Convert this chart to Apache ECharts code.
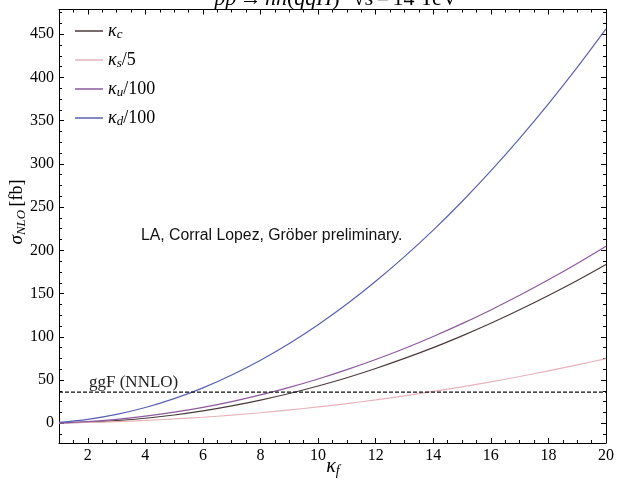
<!DOCTYPE html>
<html><head><meta charset="utf-8">
<script src="https://cdn.jsdelivr.net/npm/echarts@6/dist/echarts.min.js"></script>
<style>html,body{margin:0;padding:0;background:#fff}#c{width:617px;height:481px}</style>
</head><body><div id="c"></div>
<script>
// ---- data ----
const kappa     = [1,2,3,4,5,6,7,8,9,10,11,12,13,14,15,16,17,18,19,20];
const sigmaC    = [0.4,1.3,3.1,5.8,9.6,14.3,20.1,26.8,34.4,43.1,52.7,63.4,75.0,87.5,101.1,115.6,131.2,147.7,165.1,183.6];
const sigmaS5   = [0.5,1.0,2.0,3.3,5.0,7.0,9.4,12.2,15.4,18.9,22.8,27.1,31.7,36.8,42.2,47.9,54.1,60.6,67.5,74.7];
const sigmaU100 = [0.5,2.0,4.6,8.2,12.8,18.4,25.1,32.8,41.5,51.2,62.0,73.7,86.5,100.4,115.2,131.1,148.0,165.9,184.8,204.8];
const sigmaD100 = [1.1,4.6,10.3,18.2,28.5,41.0,55.9,73.0,92.3,114.0,137.9,164.2,192.7,223.4,256.5,291.8,329.5,369.4,411.5,456.0];
const ggF = 36;
const xTicks = [2,4,6,8,10,12,14,16,18,20];
const yTicks = [0,50,100,150,200,250,300,350,400,450];
const seriesNames = ['kc','ks5','ku100','kd100'];

// ---- derived ----
const xMinor = [];
for (let v = 1; v <= 20.001; v += 0.5) if (Math.abs(v/2 - Math.round(v/2)) > 1e-6) xMinor.push(v);
const yMinor = [];
for (let v = -12.5; v <= 478; v += 12.5) if (Math.abs(v/50 - Math.round(v/50)) > 1e-6) yMinor.push(v);
const pairs = ys => kappa.map((k,i)=>[k, ys[i]]);

const serif = 'Liberation Serif';
const mathRich = {
  i:   {fontFamily: serif, fontStyle: 'italic', fontSize: 18, lineHeight: 20, color: '#000'},
  sub: {fontFamily: serif, fontStyle: 'italic', fontSize: 13, lineHeight: 12, verticalAlign: 'bottom', color: '#000'},
  n:   {fontFamily: serif, fontSize: 18, lineHeight: 20, color: '#000'}
};
const legendText = {
  kc: '{i|κ}{sub|c}',
  ks5: '{i|κ}{sub|s}{n|/5}',
  ku100: '{i|κ}{sub|u}{n|/100}',
  kd100: '{i|κ}{sub|d}{n|/100}'
};
const colors = {kc: '#4a3b3b', ks5: '#e6b3bb', ku100: '#8d5a9e', kd100: '#5b60b2'};
const XMIN = 1, XMAX = 20, YMIN = -22.8, YMAX = 478.5;

function xAx(pos, major) {
  return {
    type: 'value', min: XMIN, max: XMAX, position: pos,
    axisLine: {show: major, onZero: false, lineStyle: {color: '#000', width: 1}},
    axisTick: {show: true, inside: true, length: major ? 5 : 3, customValues: major ? xTicks : xMinor, lineStyle: {color: '#000', width: 1}},
    axisLabel: (major && pos === 'bottom') ? {show: true, customValues: xTicks, margin: 5, fontFamily: serif, fontSize: 16, color: '#000'} : {show: false},
    splitLine: {show: false}
  };
}
function yAx(pos, major) {
  return {
    type: 'value', min: YMIN, max: YMAX, position: pos,
    axisLine: {show: major, onZero: false, lineStyle: {color: '#000', width: 1}},
    axisTick: {show: true, inside: true, length: major ? 5 : 3, customValues: major ? yTicks : yMinor, lineStyle: {color: '#000', width: 1}},
    axisLabel: (major && pos === 'left') ? {show: true, customValues: yTicks, margin: 5, fontFamily: serif, fontSize: 16, color: '#000'} : {show: false},
    splitLine: {show: false}
  };
}

const series = [
  {name: 'kc', data: pairs(sigmaC)},
  {name: 'ks5', data: pairs(sigmaS5)},
  {name: 'ku100', data: pairs(sigmaU100)},
  {name: 'kd100', data: pairs(sigmaD100)}
].map(s => ({
  name: s.name, type: 'line', data: s.data, smooth: 0.3, showSymbol: false, symbol: 'none',
  xAxisIndex: 0, yAxisIndex: 0, color: colors[s.name],
  lineStyle: {color: colors[s.name], width: 1.2}, silent: true, animation: false
}));
series.push({
  name: 'ggF', type: 'line', data: [[XMIN, ggF], [XMAX, ggF]], showSymbol: false, symbol: 'none',
  xAxisIndex: 0, yAxisIndex: 0, color: '#000',
  lineStyle: {color: '#111', width: 1.2, type: [4, 2]}, silent: true, animation: false
});

const chart = echarts.init(document.getElementById('c'), null, {renderer: 'canvas'});
chart.setOption({
  animation: false,
  backgroundColor: '#fff',
  grid: {left: 59, right: 10, top: 9.5, bottom: 38, containLabel: false},
  xAxis: [xAx('bottom', true), xAx('bottom', false), xAx('top', true), xAx('top', false)],
  yAxis: [yAx('left', true), yAx('left', false), yAx('right', true), yAx('right', false)],
  legend: {
    data: seriesNames, orient: 'vertical', left: 75, top: 21, padding: 0,
    icon: 'rect', itemWidth: 28, itemHeight: 1.5, itemGap: 9,
    formatter: n => legendText[n],
    textStyle: {rich: mathRich, fontFamily: serif, fontSize: 18, lineHeight: 20},
    selectedMode: false
  },
  series: series,
  graphic: [
    {type: 'text', x: 336, y: 9, z: 100, silent: true,
     style: {text: '{i|pp} {n|→} {i|hh}{n|(}{i|qqH}{n|)}    {n|√}{i|s} {n|=} {n|14 TeV}', align: 'center', verticalAlign: 'bottom',
       rich: {i: {fontFamily: serif, fontStyle: 'italic', fontSize: 22, lineHeight: 20, color: '#000'},
              n: {fontFamily: serif, fontSize: 22, lineHeight: 20, color: '#000'}}}},
    {type: 'text', x: 17, y: 212, rotation: Math.PI / 2, silent: true,
     style: {text: '{i|σ}{sub|NLO} {n|[fb]}', align: 'center', verticalAlign: 'middle',
       rich: {i: {fontFamily: serif, fontStyle: 'italic', fontSize: 19, lineHeight: 22, color: '#000'},
              sub: {fontFamily: serif, fontStyle: 'italic', fontSize: 13, lineHeight: 13, verticalAlign: 'bottom', color: '#000'},
              n: {fontFamily: serif, fontSize: 18, lineHeight: 22, color: '#000'}}}},
    {type: 'text', x: 333, y: 467, silent: true,
     style: {text: '{i|κ}{sub|f}', align: 'center', verticalAlign: 'middle',
       rich: {i: {fontFamily: serif, fontStyle: 'italic', fontSize: 20, lineHeight: 22, color: '#000'},
              sub: {fontFamily: serif, fontStyle: 'italic', fontSize: 14, lineHeight: 14, verticalAlign: 'bottom', color: '#000'}}}},
    {type: 'text', x: 89, y: 391, silent: true,
     style: {text: 'ggF (NNLO)', fontFamily: serif, fontSize: 17, fill: '#222', align: 'left', verticalAlign: 'bottom'}},
    {type: 'text', x: 141, y: 236, silent: true,
     style: {text: 'LA, Corral Lopez, Gröber preliminary.', fontFamily: 'Liberation Sans', fontSize: 15.8, fill: '#111', align: 'left', verticalAlign: 'middle'}}
  ]
});
</script>
</body></html>
